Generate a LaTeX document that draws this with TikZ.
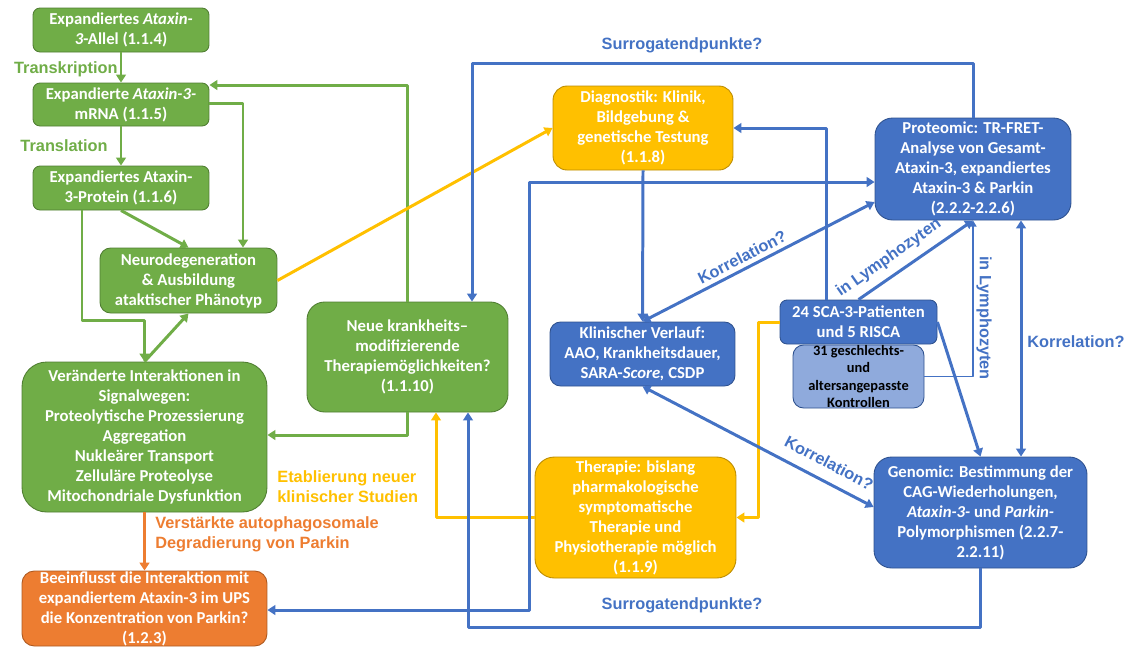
\documentclass[tikz,border=0pt]{standalone}
\usepackage{fontspec}
\setmainfont{Carlito}
\newfontfamily\arialfont{Liberation Sans}
\usetikzlibrary{arrows.meta}
\definecolor{gruen}{HTML}{70AD47}
\definecolor{gruenrand}{HTML}{507E32}
\definecolor{gelb}{HTML}{FFC000}
\definecolor{gelbrand}{HTML}{BC8C00}
\definecolor{blau}{HTML}{4472C4}
\definecolor{blaurand}{HTML}{2F528F}
\definecolor{hellblau}{HTML}{8FAADC}
\definecolor{ora}{HTML}{ED7D31}
\definecolor{orarand}{HTML}{AE5A21}
\begin{document}
\begin{tikzpicture}[x=0.02cm, y=-0.02cm, line join=round, >={Triangle[length=4.5pt,width=5.5pt]},
		box/.style={draw, line width=0.5pt, align=center, text=white, inner sep=0pt, font=\fontsize{9.5}{11.4}\selectfont\bfseries},
		gbox/.style={box, fill=gruen, draw=gruenrand},
		ybox/.style={box, fill=gelb, draw=gelbrand},
		bbox/.style={box, fill=blau, draw=blaurand},
		obox/.style={box, fill=ora, draw=orarand},
		lab/.style={inner sep=0pt, align=left, font=\arialfont\fontsize{9.3}{11.4}\selectfont\bfseries},
		gline/.style={draw=gruen, line width=\lw, ->},
		yline/.style={draw=gelb, line width=\lw, ->},
		bline/.style={draw=blau, line width=\lw, ->},
		oline/.style={draw=ora, line width=\lw, ->},
		bthin/.style={draw=blau, line width=0.75pt, -{Triangle[length=3.5pt,width=4pt]}}]
	\def\lw{1.7pt}  % Linienbreite der Pfeile
	\useasboundingbox (0,0) rectangle (1128,647);
	
	\node[gbox, minimum width=3.52cm, minimum height=0.88cm, rounded corners=4pt] (allel) at (121,30) {Expandiertes \textit{Ataxin-}\\\textit{3}-Allel (1.1.4)};
	\node[gbox, minimum width=3.52cm, minimum height=0.86cm, rounded corners=4pt] (mrna) at (121,104.5) {Expandierte \textit{Ataxin-3-}\\mRNA (1.1.5)};
	\node[gbox, minimum width=3.52cm, minimum height=0.88cm, rounded corners=4pt] (protein) at (121,188) {Expandiertes Ataxin-\\3-Protein (1.1.6)};
	\node[gbox, minimum width=3.54cm, minimum height=1.3cm, rounded corners=6pt] (neuro) at (188.5,280.5) {Neurodegeneration\\\& Ausbildung\\ataktischer Phänotyp};
	\node[gbox, minimum width=4.9cm, minimum height=3cm, rounded corners=14pt] (signal) at (144.5,437) {Veränderte Interaktionen in\\Signalwegen:\\Proteolytische Prozessierung\\Aggregation\\Nukleärer Transport\\Zelluläre Proteolyse\\Mitochondriale Dysfunktion};
	\node[obox, minimum width=4.9cm, minimum height=1.5cm, rounded corners=7pt] (parkin) at (144.5,608.5) {Beeinflusst die Interaktion mit\\expandiertem Ataxin-3 im UPS\\die Konzentration von Parkin?\\(1.2.3)};
	\node[gbox, minimum width=4.02cm, minimum height=2.2cm, rounded corners=10pt] (neue) at (407.5,357) {Neue krankheits–\\modifizierende\\Therapiemöglichkeiten?\\(1.1.10)};
	\node[ybox, minimum width=3.6cm, minimum height=1.68cm, rounded corners=8pt] (diag) at (643,128) {Diagnostik: Klinik,\\Bildgebung \&\\genetische Testung\\(1.1.8)};
	\node[ybox, minimum width=4.02cm, minimum height=2.42cm, rounded corners=11pt] (therapie) at (635.5,517.5) {Therapie: bislang\\pharmakologische\\symptomatische\\Therapie und\\Physiotherapie möglich\\(1.1.9)};
	\node[bbox, minimum width=3.92cm, minimum height=2.04cm, rounded corners=10pt] (proteo) at (973,169) {Proteomic: TR-FRET-\\Analyse von Gesamt-\\Ataxin-3, expandiertes\\Ataxin-3 \& Parkin\\(2.2.2-2.2.6)};
	\node[bbox, minimum width=3.7cm, minimum height=1.28cm, rounded corners=6pt] (klinik) at (642.5,354) {Klinischer Verlauf:\\AAO, Krankheitsdauer,\\SARA-\textit{Score,} CSDP};
	\node[bbox, fill=hellblau, text=black, minimum width=2.62cm, minimum height=1.26cm, rounded corners=6pt, font=\fontsize{8.2}{9.8}\selectfont\bfseries] (ctrl) at (858.5,376.5) {31 geschlechts-\\und\\altersangepasste\\Kontrollen};
	\node[bbox, minimum width=3.14cm, minimum height=0.88cm, rounded corners=4pt] (sca) at (858.5,322) {24 SCA-3-Patienten\\und 5 RISCA};
	\node[bbox, minimum width=4.26cm, minimum height=2.22cm, rounded corners=10pt] (genomic) at (980.5,512.5) {Genomic: Bestimmung der\\CAG-Wiederholungen,\\\textit{Ataxin-3-} und \textit{Parkin-}\\Polymorphismen (2.2.7-\\2.2.11)};
	
	\draw[gline] (allel) -- (mrna);
	\draw[gline] (mrna) -- (protein);
	\draw[gline] (protein.south) -- (neuro.north);
	\draw[gline] (mrna.east |- 0,103) -| (243,0 |- neuro.north);
	\draw[gline] (neue.north) |- (mrna.east |- 0,85);
	\draw[gline] (82,0 |- protein.south) -- (82,320) -| (signal.north);
	\draw[gline] (signal.north) -- (neuro.south);
	\draw[gline] (neue.south) |- (signal.east |- 0,435);
	\draw[oline] (signal) -- (parkin);
	\draw[yline] (neuro.east) -- (diag.west);
	\draw[yline] (therapie.west) -| (436,0 |- neue.south);
	\draw[yline] (sca.west) -- (758,0 |- sca.west) |- (therapie.east);
	\draw[bline] (proteo.north) -- (proteo.north |- 0,63) -| (472,0 |- neue.north);
	\draw[bline] (genomic.south) |- (468,627) -- (468,0 |- neue.south);
	\draw[bline] (diag.south) -- (klinik.north);
	\draw[bline] (826,0 |- sca.north) |- (diag.east);
	\draw[bline, <->] (parkin.east |- 0,610) -- (529,610) |- (proteo.west |- 0,182);
	\draw[bline, <->] (klinik.north) -- (proteo.west |- 0,202);
	\draw[bline, <->] (klinik.south) -- (genomic.west |- 0,507);
	\draw[bline] (sca.north) -- (proteo.south);
	\draw[bline] (sca.east) -- (genomic.north);
	\draw[bline, <->] (proteo.south -| 1021,0) -- (genomic.north -| 1021,0);
	\draw[bthin] (ctrl.east) -| (proteo.south);
	
	\node[lab, text=gruen, anchor=east] (transk) at (118,69) {Transkription};
	\node[lab, text=gruen, anchor=east] (transl) at (108,146) {Translation};
	\node[lab, text=ora, anchor=west] (autoph) at (155,534) {Verstärkte autophagosomale\\Degradierung von Parkin};
	\node[lab, text=gelb, anchor=west] (studien) at (277,487) {Etablierung neuer\\klinischer Studien};
	\node[lab, text=blau] (surr1) at (682,45) {Surrogatendpunkte?};
	\node[lab, text=blau] (surr2) at (682,605) {Surrogatendpunkte?};
	\node[lab, text=blau, rotate=27.3] (korr1) at (742,257) {Korrelation?};
	\node[lab, text=blau, rotate=-27.6] (korr2) at (829,463) {Korrelation?};
	\node[lab, text=blau, rotate=35] (lymph1) at (889,258) {in Lymphozyten};
	\node[lab, text=blau, rotate=-90] (lymph2) at (984,318) {in Lymphozyten};
	\node[lab, text=blau, anchor=west] (korr3) at (1027,342) {Korrelation?};
\end{tikzpicture}
\end{document}
